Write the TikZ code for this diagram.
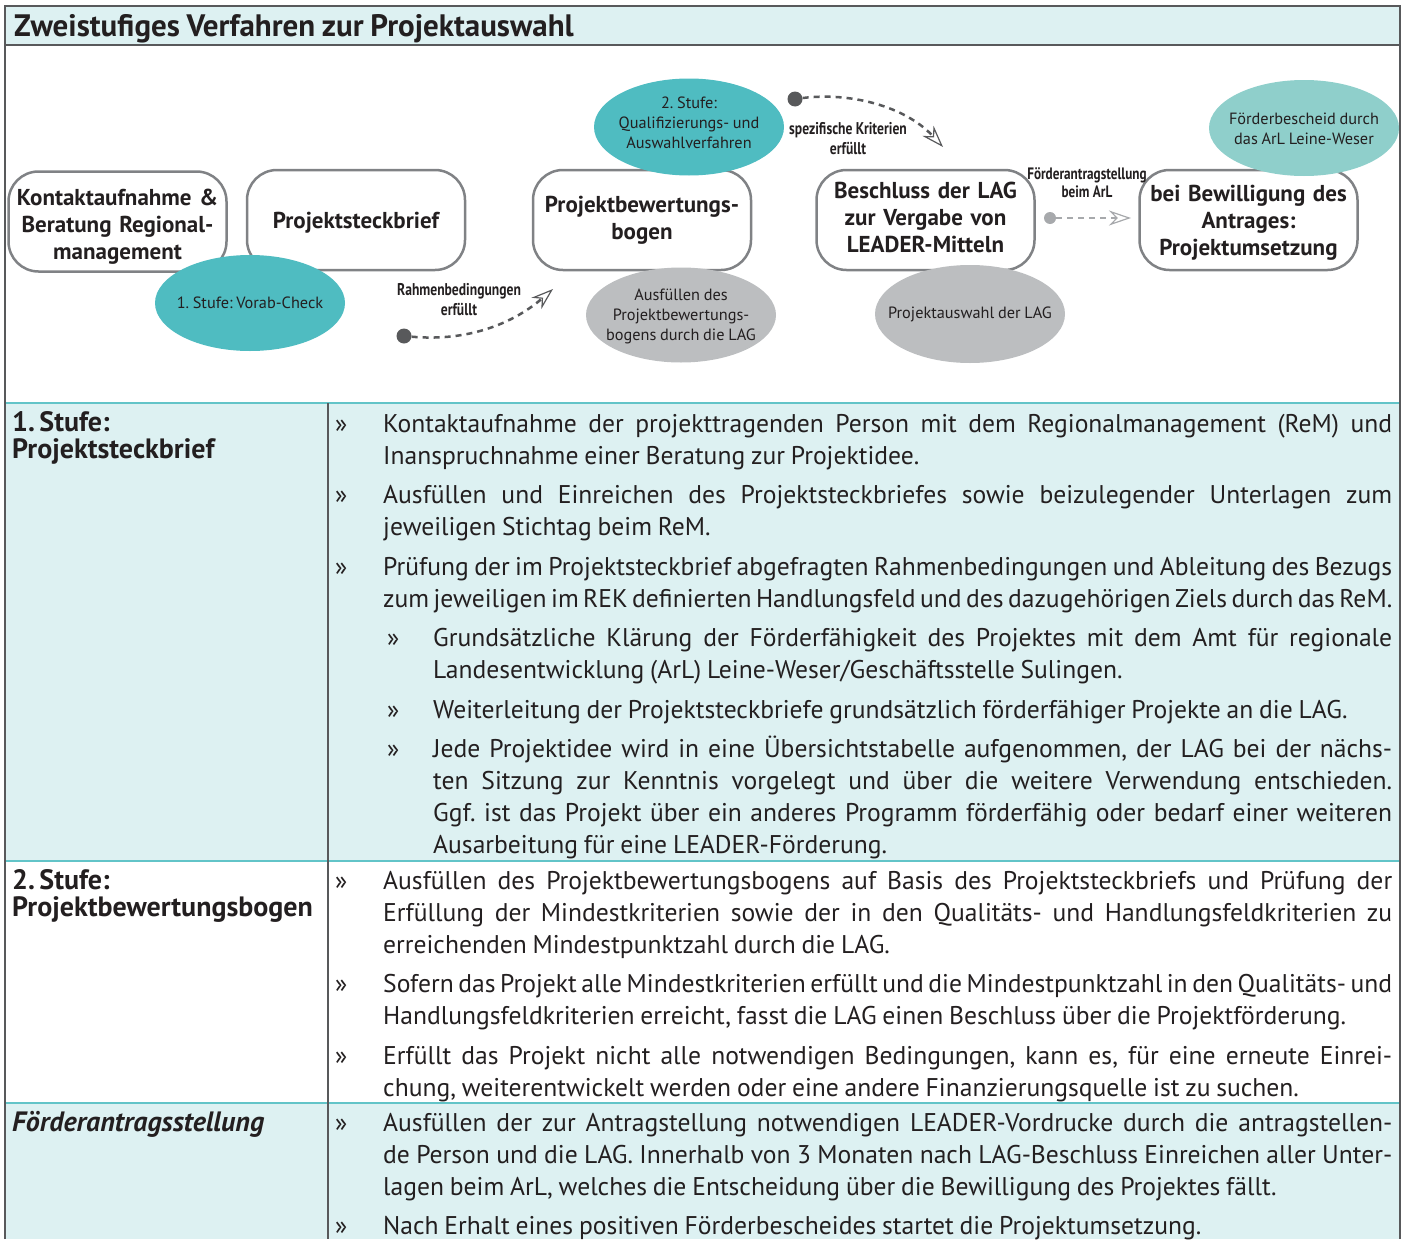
\documentclass[tikz,border=0pt]{standalone}
\usepackage{fontspec}
\setmainfont{PT Sans}[WordSpace={0.85,1.6,2.2}]
\newfontfamily\schmal{PT Sans}[FakeStretch=0.8]
\usetikzlibrary{arrows.meta,shapes.geometric,positioning}
\frenchspacing

\definecolor{rahmen}{HTML}{58595B}
\definecolor{kasten}{HTML}{808285}
\definecolor{tuerkis}{HTML}{4FBCC1}
\definecolor{hellt}{HTML}{8FCFCB}
\definecolor{grauoval}{HTML}{BCBEC0}
\definecolor{zelle}{HTML}{DDF1F2}
\definecolor{linie}{HTML}{62C4C8}
\definecolor{schrift}{HTML}{231F20}
\definecolor{pfeilhell}{HTML}{A7A9AC}

% Aufzaehlungspunkte der Tabelle
\newcommand\punktanfang{\hangindent=48pt\hangafter=1\noindent\makebox[48pt][l]{»}}
\newcommand\punkt{\par\addvspace{7.5pt}\punktanfang}
\newcommand\unterpunkt{\par\addvspace{7.5pt}\hangindent=98pt\hangafter=1\noindent\hspace*{52pt}\makebox[46pt][l]{»}}

\tikzset{
  stufenbox/.style={draw=kasten, line width=2.5pt, rounded corners=30pt, fill=white,
    minimum width=218pt, minimum height=100pt, inner sep=0pt},
  stufentext/.style={text width=212pt, inner sep=0pt, align=center,
    font=\fontsize{23}{27}\selectfont\bfseries},
  oval/.style={ellipse, minimum width=190pt, minimum height=96pt, inner sep=0pt},
  ovaltext/.style={align=center, inner sep=0pt, font=\fontsize{16.3}{20}\selectfont},
  pfeiltext/.style={align=center, inner sep=0pt, font=\schmal\bfseries\fontsize{17}{20}\selectfont},
  startpunkt/.style={circle, fill=rahmen, inner sep=0pt, minimum size=15pt},
  weg/.style={rahmen, line width=2.5pt, dash pattern=on 6pt off 5pt,
    -{Stealth[open, length=22pt, width=15pt, line width=1.2pt, fill=white]}},
  kopf/.style={anchor=base west, inner sep=0pt, text width=315pt, align=left,
    font=\fontsize{28}{27}\selectfont\bfseries},
  liste/.style={anchor=base west, inner sep=0pt, text width=1057pt, align=justify,
    font=\fontsize{25.6}{32}\selectfont}
}

\begin{document}
\begin{tikzpicture}[x=1pt, y=-1pt, text=schrift]
\useasboundingbox (0,0) rectangle (1402,1239);

% Flaechen
\fill[zelle] (5,6) rectangle (1400,45);
\fill[zelle] (5,403) rectangle (1400,861);
\fill[zelle] (5,1103) rectangle (1400,1239);

% Linien
\draw[linie, line width=1.2pt] (5,403) -- (1400,403);
\draw[linie, line width=1.2pt] (5,861) -- (1400,861);
\draw[linie, line width=1.2pt] (5,1103) -- (1400,1103);
\draw[rahmen, line width=1.3pt] (328,403) -- (328,1239);
\draw[rahmen, line width=1.3pt] (5,45) -- (1400,45);
\draw[rahmen, line width=1.5pt] (5,1239) -- (5,6) -- (1400,6) -- (1400,1239);

\node[anchor=base west, inner sep=0pt, font=\fontsize{31}{34}\selectfont\bfseries] (titel) at (14,37) {Zweistufiges Verfahren zur Projektauswahl};

% Stufen
\node[stufenbox] (kontakt) at (117.5,221.5) {};
\node[stufentext] (kontakttext) at (117.5,226.5) {Kontaktaufnahme \&\\Beratung Regional-\\management};
\node[stufenbox] (steckbrief) at (356,220) {};
\node[stufentext] (steckbrieftext) at (356,223) {Projektsteckbrief};
\node[stufenbox] (bewertung) at (642,220) {};
\node[stufentext] (bewertungtext) at (642,220) {Projektbewertungs-\\bogen};
\node[stufenbox] (beschluss) at (925.5,220) {};
\node[stufentext] (beschlusstext) at (925.5,217) {Beschluss der LAG\\zur Vergabe von\\LEADER-Mitteln};
\node[stufenbox] (bewilligung) at (1248.5,220) {};
\node[stufentext] (bewilligungtext) at (1248.5,222.5) {bei Bewilligung des\\Antrages:\\Projektumsetzung};

% Ovale
\node[oval, fill=tuerkis] (vorab) at (250,303) {};
\node[ovaltext] (vorabtext) at (vorab.center) {1. Stufe: Vorab-Check};
\node[oval, fill=tuerkis, minimum height=97pt] (stufezwei) at (689,127) {};
\node[ovaltext] (stufezweitext) at (689,123) {2. Stufe:\\Qualifizierungs- und\\Auswahlverfahren};
\node[oval, fill=grauoval, minimum height=95pt] (ausfuellen) at (681,315) {};
\node[ovaltext] (ausfuellentext) at (681,316) {Ausfüllen des\\Projektbewertungs-\\bogens durch die LAG};
\node[oval, fill=grauoval, minimum height=98pt] (auswahl) at (970,314) {};
\node[ovaltext] (auswahltext) at (auswahl.center) {Projektauswahl der LAG};
\node[oval, fill=hellt] (bescheid) at (1304,128) {};
\node[ovaltext] (bescheidtext) at (1304,129) {Förderbescheid durch\\das ArL Leine-Weser};

% Pfeile
\node[startpunkt] (startrahmen) at (404,336) {};
\coordinate (zielrahmen) at (553,289);
\draw[weg] (startrahmen) .. controls (470,342) and (515,322) .. (zielrahmen);
\node[pfeiltext] (rahmentext) at (459,300) {Rahmenbedingungen\\erfüllt};

\node[startpunkt] (startkrit) at (795,99) {};
\coordinate (zielkrit) at (943,147);
\draw[weg] (startkrit) .. controls (850,92) and (905,106) .. (zielkrit);
\node[pfeiltext] (krittext) at (848,139) {spezifische Kriterien\\erfüllt};

\node[startpunkt, fill=pfeilhell, minimum size=12pt] (startantrag) at (1050,218) {};
\coordinate (zielantrag) at (1131,218);
\draw[weg, pfeilhell, line width=1.6pt] (startantrag) -- (zielantrag);
\node[pfeiltext, font=\schmal\bfseries\fontsize{16.5}{18}\selectfont] (antragtext) at (1087,183) {Förderantragstellung\\beim ArL};

% Tabelle
\node[kopf] (kopfeins) at (12,431) {1.\hspace{4.5pt}Stufe:\\Projektsteckbrief};
\node[kopf] (kopfzwei) at (12,889) {2.\hspace{4.5pt}Stufe:\\Projektbewertungsbogen};
\node[kopf] (kopfdrei) at (12,1131) {\itshape Förderantragsstellung};

\node[liste] (listeeins) at (335,432) {%
\punktanfang Kontaktaufnahme der projekttragenden Person mit dem Regionalmanagement (ReM) und\linebreak Inanspruchnahme einer Beratung zur Projektidee.
\punkt Ausfüllen und Einreichen des Projektsteckbriefes sowie beizulegender Unterlagen zum\linebreak jeweiligen Stichtag beim ReM.
\punkt Prüfung der im Projektsteckbrief abgefragten Rahmenbedingungen und Ableitung des Bezugs\linebreak zum jeweiligen im REK definierten Handlungsfeld und des dazugehörigen Ziels durch das ReM.
\unterpunkt Grundsätzliche Klärung der Förderfähigkeit des Projektes mit dem Amt für regionale\linebreak Landesentwicklung (ArL) Leine-Weser/Geschäftsstelle Sulingen.
\unterpunkt Weiterleitung der Projektsteckbriefe grundsätzlich förderfähiger Projekte an die LAG.
\unterpunkt Jede Projektidee wird in eine Übersichtstabelle aufgenommen, der LAG bei der nächs-\linebreak ten Sitzung zur Kenntnis vorgelegt und über die weitere Verwendung entschieden.\linebreak Ggf. ist das Projekt über ein anderes Programm förderfähig oder bedarf einer weiteren\linebreak Ausarbeitung für eine LEADER-Förderung.\par};

\node[liste] (listezwei) at (335,889) {%
\punktanfang Ausfüllen des Projektbewertungsbogens auf Basis des Projektsteckbriefs und Prüfung der\linebreak Erfüllung der Mindestkriterien sowie der in den Qualitäts- und Handlungsfeldkriterien zu\linebreak erreichenden Mindestpunktzahl durch die LAG.
\punkt Sofern das Projekt alle Mindestkriterien erfüllt und die Mindestpunktzahl in den Qualitäts- und\linebreak Handlungsfeldkriterien erreicht, fasst die LAG einen Beschluss über die Projektförderung.
\punkt Erfüllt das Projekt nicht alle notwendigen Bedingungen, kann es, für eine erneute Einrei-\linebreak chung, weiterentwickelt werden oder eine andere Finanzierungsquelle ist zu suchen.\par};

\node[liste] (listedrei) at (335,1131) {%
\punktanfang Ausfüllen der zur Antragstellung notwendigen LEADER-Vordrucke durch die antragstellen-\linebreak de Person und die LAG. Innerhalb von 3 Monaten nach LAG-Beschluss Einreichen aller Unter-\linebreak lagen beim ArL, welches die Entscheidung über die Bewilligung des Projektes fällt.
\punkt Nach Erhalt eines positiven Förderbescheides startet die Projektumsetzung.\par};
\end{tikzpicture}
\end{document}
